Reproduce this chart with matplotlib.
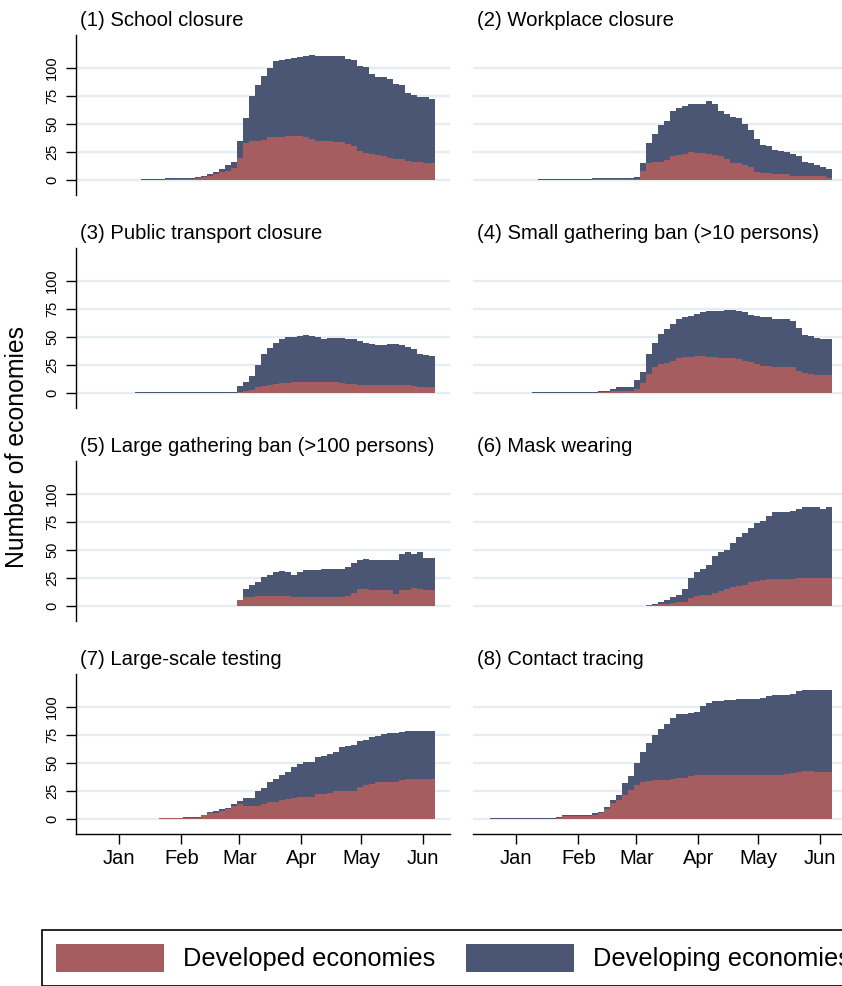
import numpy as np
import matplotlib
matplotlib.use("Agg")
import matplotlib.pyplot as plt
import matplotlib.dates as mdates
from matplotlib.patches import Patch

plt.rcParams['font.family'] = ['Liberation Sans', 'DejaVu Sans']

# 3-day bins starting 19 Dec 2019 (57 bins, last one ends 7 Jun 2020)
dates = np.datetime64('2019-12-19') + np.arange(57) * 3

titles = ["(1) School closure", "(2) Workplace closure",
          "(3) Public transport closure", "(4) Small gathering ban (>10 persons)",
          "(5) Large gathering ban (>100 persons)", "(6) Mask wearing",
          "(7) Large-scale testing", "(8) Contact tracing"]

# number of developed / developing economies with the measure in place
school_dvd = [0]*8 + [0,0,0,0,1,1,1,1,1,2,3,4,5,7,8,11,20,33,35,35,36,38,38,38,39,39,39,38,37,
                      35,35,35,34,34,32,30,26,24,23,22,21,20,19,19,17,16,16,15,15]
school_dvg = [0]*8 + [1,1,1,1,1,1,1,1,1,1,1,1,2,3,5,5,15,22,40,50,57,62,68,69,69,70,71,73,75,
                      76,76,76,77,77,76,77,76,77,72,70,71,70,67,66,61,60,58,59,57]

work_dvd = [0]*8 + [0]*9 + [1]*7 + [1,8,15,16,16,18,21,22,23,25,24,24,23,22,21,19,15,15,13,12,
                                    7,6,6,5,5,5,4,4,4,4,4,4,2]
work_dvg = [0]*8 + [1]*9 + [1]*7 + [2,7,18,25,33,35,41,42,43,43,44,44,48,46,41,40,41,40,37,33,
                                    30,25,24,22,21,20,19,17,12,11,9,8,8]

transp_dvd = [0]*24 + [1,2,3,5,6,7,8,9,9,10,10,10,10,10,10,10,10,9,8,8,7,7,7,7,7,7,7,7,7,6,5,5,5]
transp_dvg = [0]*7 + [1]*17 + [5,8,12,20,29,33,37,39,41,40,41,42,41,40,38,39,39,40,40,40,39,38,
                               37,36,36,37,37,36,34,33,30,29,28]

small_dvd = [0]*18 + [1,1,2,2,2,2,4,9,17,23,26,27,29,31,32,32,33,33,32,32,31,31,31,30,29,28,26,
                      24,24,23,23,23,23,20,18,17,16,16,16]
small_dvg = [0]*7 + [1]*11 + [1,1,2,3,3,3,8,10,18,22,27,30,33,35,36,37,38,39,41,41,42,43,43,43,
                              43,42,43,44,44,43,43,43,41,38,34,34,33,32,32]

large_dvd = [0]*24 + [5,8,8,9,9,9,9,9,9,8,8,8,8,8,8,8,8,8,9,12,15,15,14,14,14,14,11,14,14,16,15,14,14]
large_dvg = [0]*24 + [0,7,11,12,17,19,21,22,21,20,22,24,24,24,25,25,25,25,26,26,26,27,27,27,27,27,
                      30,32,34,30,33,29,29]

mask_dvd = [0]*26 + [1,1,2,2,3,4,4,7,9,10,10,12,13,15,17,18,19,21,22,23,24,24,24,24,24,25,25,25,
                     25,25,25]
mask_dvg = [0]*26 + [0,1,2,3,5,6,11,18,21,23,27,33,35,35,39,44,46,49,52,53,56,60,60,60,61,62,63,63,
                     63,62,63]

test_dvd = [0]*11 + [1,1,1,1,1,1,1,4,5,5,7,9,12,13,12,12,12,13,15,15,17,18,19,20,20,20,22,22,23,25,
                     25,25,25,29,30,31,33,33,33,33,35,36,36,36,36,36]
test_dvg = [0]*11 + [0,0,0,0,1,1,1,0,1,2,2,1,1,3,7,7,13,15,18,21,22,24,27,29,31,31,33,34,35,35,39,
                     40,41,41,41,42,41,43,44,44,43,43,43,43,43,43]

trace_dvd = [0]*11 + [1,3,3,3,3,3,4,5,9,14,17,21,26,30,33,34,35,35,35,36,37,37,38] + [39]*15 + \
            [40,41,42,43,43,42,42,42]
trace_dvg = [1]*19 + [2,3,4,11,12,20,27,34,40,45,50,54,57,57,57,57,62,65,66,66,67,67,68,68,68,68,
                      69,71,72,72,71,71,72,72,72,73,73,73]

developed = [school_dvd, work_dvd, transp_dvd, small_dvd, large_dvd, mask_dvd, test_dvd, trace_dvd]
developing = [school_dvg, work_dvg, transp_dvg, small_dvg, large_dvg, mask_dvg, test_dvg, trace_dvg]

red = '#a65d60'
blue = '#4b5674'

W, H = 842, 986
fig = plt.figure(figsize=(W / 100, H / 100), dpi=100)

jan1 = np.datetime64('2020-01-01T00:00')
xmin = jan1 - np.timedelta64(520, 'h')
xmax = jan1 + np.timedelta64(3968, 'h')

for i in range(8):
    row, col = i // 2, i % 2
    left = 76 if col == 0 else 473
    top = 35 + 213 * row
    ax = fig.add_axes([left / W, 1 - (top + 160) / H, 374 / W, 160 / H])
    dvd = np.array(developed[i])
    dvg = np.array(developing[i])
    ax.bar(dates, dvd, width=3, align='edge', color=red, linewidth=0, antialiased=False)
    ax.bar(dates, dvg, width=3, align='edge', bottom=dvd, color=blue, linewidth=0,
           antialiased=False)

    ax.set_xlim(xmin, xmax)
    ax.set_ylim(-13.4, 129.5)
    ax.set_yticks([0, 25, 50, 75, 100])
    ax.set_axisbelow(True)
    ax.yaxis.grid(True, color='#e6edf0', linewidth=1.7)
    ax.xaxis.grid(False)
    for s in ['top', 'right']:
        ax.spines[s].set_visible(False)
    ax.spines['left'].set_visible(col == 0)
    ax.spines['bottom'].set_visible(row == 3)
    ax.spines['left'].set_linewidth(1.0)
    ax.spines['bottom'].set_linewidth(1.0)

    ax.xaxis.set_major_locator(mdates.MonthLocator())
    ax.xaxis.set_major_formatter(mdates.DateFormatter('%b'))
    ax.tick_params(axis='x', length=7, width=1, pad=4, labelsize=14.5,
                   bottom=(row == 3), labelbottom=(row == 3))
    ax.tick_params(axis='y', length=7.2, width=1, pad=5, labelsize=10.5,
                   left=(col == 0), labelleft=(col == 0), labelrotation=90)
    for lab in ax.get_yticklabels():
        lab.set_va('center')

    ax.text(4 / 374, 1 + 9 / 160, titles[i], transform=ax.transAxes,
            ha='left', va='baseline', fontsize=14.6)

fig.text(17 / W, 1 - 447 / H, 'Number of economies', rotation=90,
         ha='center', va='center', fontsize=17.8)

handles = [Patch(facecolor=red, edgecolor='none'), Patch(facecolor=blue, edgecolor='none')]
leg = fig.legend(handles, ['Developed economies', 'Developing economies'],
                 loc='upper left', bbox_to_anchor=(42 / W, 1 - 930 / H), ncol=2,
                 fontsize=18.3, handlelength=4.25, handleheight=1.3, handletextpad=0.75,
                 columnspacing=1.2, borderpad=0.55, borderaxespad=0,
                 frameon=True, fancybox=False, framealpha=1, edgecolor='black')
leg.get_frame().set_linewidth(1.2)

fig.savefig('out.png', dpi=100)
